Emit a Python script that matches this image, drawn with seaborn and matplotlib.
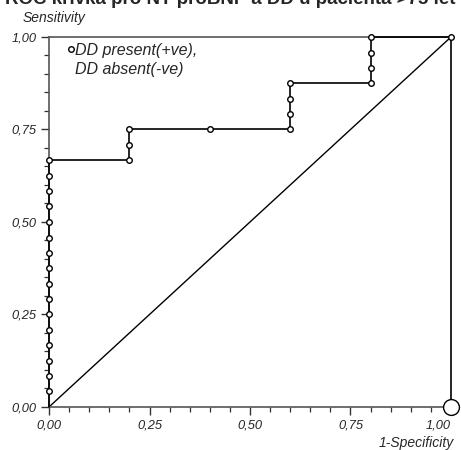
import numpy as np
import pandas as pd
import seaborn as sns
import matplotlib.pyplot as plt
from matplotlib.ticker import MultipleLocator, FuncFormatter
from matplotlib.lines import Line2D

# ROC curve points (1-specificity, sensitivity)
roc_fpr = [0.0, 0.0, 0.0, 0.0, 0.0, 0.0, 0.0, 0.0, 0.0, 0.0, 0.0, 0.0, 0.0, 0.0, 0.0, 0.0, 0.0,
           0.2, 0.2, 0.2, 0.4, 0.6, 0.6, 0.6, 0.6, 0.8, 0.8, 0.8, 0.8, 1.0]
roc_tpr = [0.0, 0.042, 0.083, 0.125, 0.167, 0.208, 0.25, 0.292, 0.333, 0.375, 0.417, 0.458,
           0.5, 0.542, 0.583, 0.625, 0.667,
           0.667, 0.708, 0.75, 0.75, 0.75, 0.792, 0.833, 0.875, 0.875, 0.917, 0.958, 1.0, 1.0]
chance_x = [0.0, 1.0]
chance_y = [0.0, 1.0]
corner_x = [1.0]
corner_y = [0.0]

title = "ROC křivka pro NT-proBNP a DD u pacienta >75 let"
legend_labels = ["DD present(+ve),", "DD absent(-ve)"]

sns.set_style("ticks")
plt.rcParams['font.family'] = ['Liberation Sans', 'DejaVu Sans']

df = pd.DataFrame({"fpr": roc_fpr, "tpr": roc_tpr})

fig = plt.figure(figsize=(4.61, 4.50), dpi=100)
ax = fig.add_axes([0.1063, 0.0956, 0.8720, 0.8222])

sns.lineplot(data=df, x="fpr", y="tpr", sort=False, estimator=None,
             color="black", linewidth=1.2, ax=ax, clip_on=False, zorder=3)
sns.lineplot(x=chance_x, y=chance_y, color="black", linewidth=1.0, ax=ax,
             clip_on=False, zorder=2)
sns.scatterplot(data=df.iloc[1:], x="fpr", y="tpr", marker="o", s=16,
                facecolor="white", edgecolor="black", linewidth=1.0,
                ax=ax, clip_on=False, zorder=4)
sns.scatterplot(x=corner_x, y=corner_y, marker="o", s=130, facecolor="white",
                edgecolor="black", linewidth=1.0, ax=ax, clip_on=False, zorder=5)

ax.set_xlim(0, 1)
ax.set_ylim(0, 1)
for side in ["top", "right", "bottom", "left"]:
    ax.spines[side].set_visible(True)
    ax.spines[side].set_linewidth(1.2)
    ax.spines[side].set_color("#555555")
ax.spines["right"].set_color("black")

fmt = FuncFormatter(lambda v, p: f"{v:.2f}".replace(".", ","))
ax.xaxis.set_major_locator(MultipleLocator(0.25))
ax.yaxis.set_major_locator(MultipleLocator(0.25))
ax.xaxis.set_minor_locator(MultipleLocator(0.05))
ax.yaxis.set_minor_locator(MultipleLocator(0.05))
ax.xaxis.set_major_formatter(fmt)
ax.yaxis.set_major_formatter(fmt)
ax.tick_params(which="major", direction="out", length=6, width=1.0, pad=3,
               labelsize=9.3, color="#333333")
ax.tick_params(which="minor", direction="out", length=3.5, width=0.9, color="#333333")
ax.set_xlabel("")
ax.set_ylabel("")

fig.canvas.draw()
for tick in ax.xaxis.get_major_ticks() + ax.yaxis.get_major_ticks():
    tick.label1.set_fontstyle("italic")
# last x label pulled in so it stays inside the figure
for tick in ax.xaxis.get_major_ticks():
    if abs(tick.get_loc() - 1.0) < 1e-9:
        tick.label1.set_horizontalalignment("right")
        tick.label1.set_x(1.009)

handle = Line2D([], [], marker="o", linestyle="none", markersize=4,
                markerfacecolor="white", markeredgecolor="black", markeredgewidth=1.0)
blank = Line2D([], [], linestyle="none")
leg = ax.legend([handle, blank], legend_labels, loc="upper left", frameon=False,
                bbox_to_anchor=(0.042, 0.985), borderpad=0, borderaxespad=0,
                handletextpad=0.0, handlelength=0.6, labelspacing=0.3,
                prop={"size": 11.5, "style": "italic"})

fig.text(0.048, 0.951, "Sensitivity", fontsize=10, fontstyle="italic",
         ha="left", va="baseline")
fig.text(0.985, 0.007, "1-Specificity", fontsize=10, fontstyle="italic",
         ha="right", va="baseline")
fig.text(0.5, 0.99, title, fontsize=13.5, fontweight="bold", ha="center", va="baseline")

plt.savefig("out.png", dpi=100)
